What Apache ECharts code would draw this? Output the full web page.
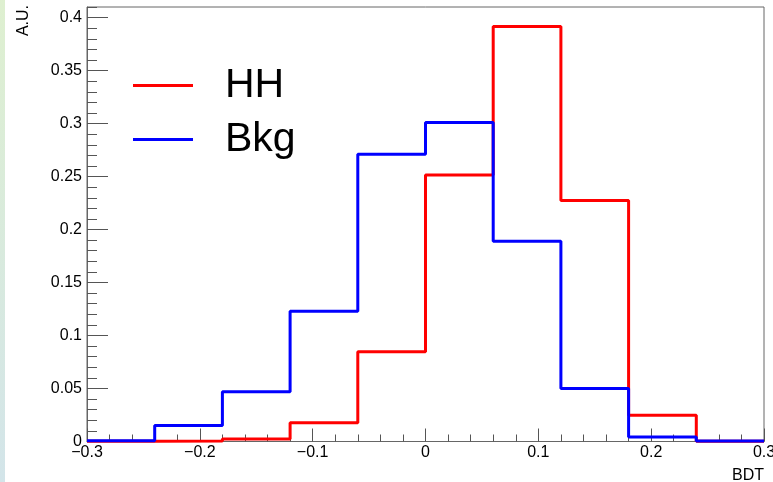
<!DOCTYPE html>
<html>
<head>
<meta charset="utf-8">
<script src="https://cdn.jsdelivr.net/npm/echarts@6/dist/echarts.min.js"></script>
<style>
  html, body { margin: 0; padding: 0; background: #ffffff; }
  #chart { width: 773px; height: 482px; }
</style>
</head>
<body>
<div id="chart"></div>
<script>
// BDT output distributions, normalised to unit area (10 bins from -0.3 to 0.3)
const binEdges = [-0.3, -0.24, -0.18, -0.12, -0.06, 0, 0.06, 0.12, 0.18, 0.24, 0.3];
const hhValues = [0.0003, 0.0004, 0.0023, 0.0176, 0.0848, 0.2515, 0.3915, 0.2275, 0.0248, 0.0002];
const bkgValues = [0.0006, 0.0151, 0.0470, 0.1230, 0.2710, 0.3010, 0.1890, 0.0500, 0.0042, 0.0005];
const seriesNames = ['HH', 'Bkg'];
const xTicks = [-0.3, -0.2, -0.1, 0, 0.1, 0.2, 0.3];
const yTicks = [0, 0.05, 0.1, 0.15, 0.2, 0.25, 0.3, 0.35, 0.4];

// Turn bin contents into step-line points: one point per left edge plus the final right edge
function histPoints(values) {
  const pts = values.map((v, i) => [binEdges[i], v]);
  pts.push([binEdges[binEdges.length - 1], values[values.length - 1]]);
  return pts;
}

const fmt = v => String(+v.toFixed(3)).replace('-', '\u2212');
const FONT = '"Liberation Sans", Arial, Helvetica, sans-serif';
const axisGrey = '#555';

const chart = echarts.init(document.getElementById('chart'), null, { renderer: 'canvas' });

chart.setOption({
  animation: false,
  backgroundColor: '#ffffff',
  textStyle: { fontFamily: FONT },
  grid: {
    left: 87, right: 9, top: 7, bottom: 40.5,
    outerBoundsMode: 'none',
    show: true, borderColor: '#666', borderWidth: 1, backgroundColor: '#ffffff'
  },
  graphic: [
    {
      type: 'rect', z: -1, silent: true,
      shape: { x: 0, y: 0, width: 5, height: 482 },
      style: {
        fill: new echarts.graphic.LinearGradient(0, 0, 0, 1, [
          { offset: 0, color: 'rgba(214,236,196,0.8)' },
          { offset: 1, color: 'rgba(200,222,228,0.8)' }
        ])
      }
    },
    {
      type: 'text', silent: true,
      x: 24, y: 5, rotation: Math.PI / 2,
      style: {
        text: 'A.U.', fontFamily: FONT, fontSize: 16, fill: '#000',
        align: 'right', verticalAlign: 'middle'
      }
    }
  ],
  legend: {
    orient: 'vertical',
    left: 128, top: 60,
    itemWidth: 60, itemHeight: 3, itemGap: 13,
    icon: 'rect',
    data: seriesNames,
    textStyle: { fontFamily: FONT, fontSize: 41, color: '#000', padding: [0, 0, 0, 27] }
  },
  xAxis: {
    type: 'value',
    min: xTicks[0], max: xTicks[xTicks.length - 1], interval: 0.1,
    name: 'BDT', nameLocation: 'end', nameGap: 0,
    nameTextStyle: { fontFamily: FONT, fontSize: 16, color: '#000', align: 'right', verticalAlign: 'top', padding: [26, 0, 0, 0] },
    axisLine: { show: true, onZero: false, lineStyle: { color: '#666', width: 1 } },
    axisTick: { show: true, inside: true, length: 13, lineStyle: { color: axisGrey } },
    minorTick: { show: true, splitNumber: 5, length: 7, lineStyle: { color: axisGrey } },
    axisLabel: { fontFamily: FONT, fontSize: 16, color: '#000', margin: 3, formatter: fmt, showMinLabel: true, showMaxLabel: true },
    splitLine: { show: false }
  },
  yAxis: [
    {
      type: 'value',
      min: yTicks[0], max: 0.41, interval: 0.05,
      axisLine: { show: true, onZero: false, lineStyle: { color: '#666', width: 1 } },
      axisTick: { show: true, inside: true, length: 21, lineStyle: { color: axisGrey } },
      axisLabel: { fontFamily: FONT, fontSize: 16, color: '#000', margin: 5, formatter: fmt, showMaxLabel: false },
      splitLine: { show: false }
    },
    {
      // fine ticks every 0.01
      type: 'value',
      min: 0, max: 0.41, interval: 0.01,
      position: 'left',
      axisLine: { show: false, onZero: false },
      axisTick: { show: true, inside: true, length: 10, lineStyle: { color: axisGrey } },
      axisLabel: { show: false },
      splitLine: { show: false }
    }
  ],
  series: [
    {
      name: seriesNames[0], type: 'line', step: 'end',
      data: histPoints(hhValues),
      yAxisIndex: 0, symbol: 'none', clip: false,
      color: '#ff0000',
      lineStyle: { color: '#ff0000', width: 3 }
    },
    {
      name: seriesNames[1], type: 'line', step: 'end',
      data: histPoints(bkgValues),
      yAxisIndex: 0, symbol: 'none', clip: false,
      color: '#0000ff',
      lineStyle: { color: '#0000ff', width: 3 }
    }
  ]
});
</script>
</body>
</html>
